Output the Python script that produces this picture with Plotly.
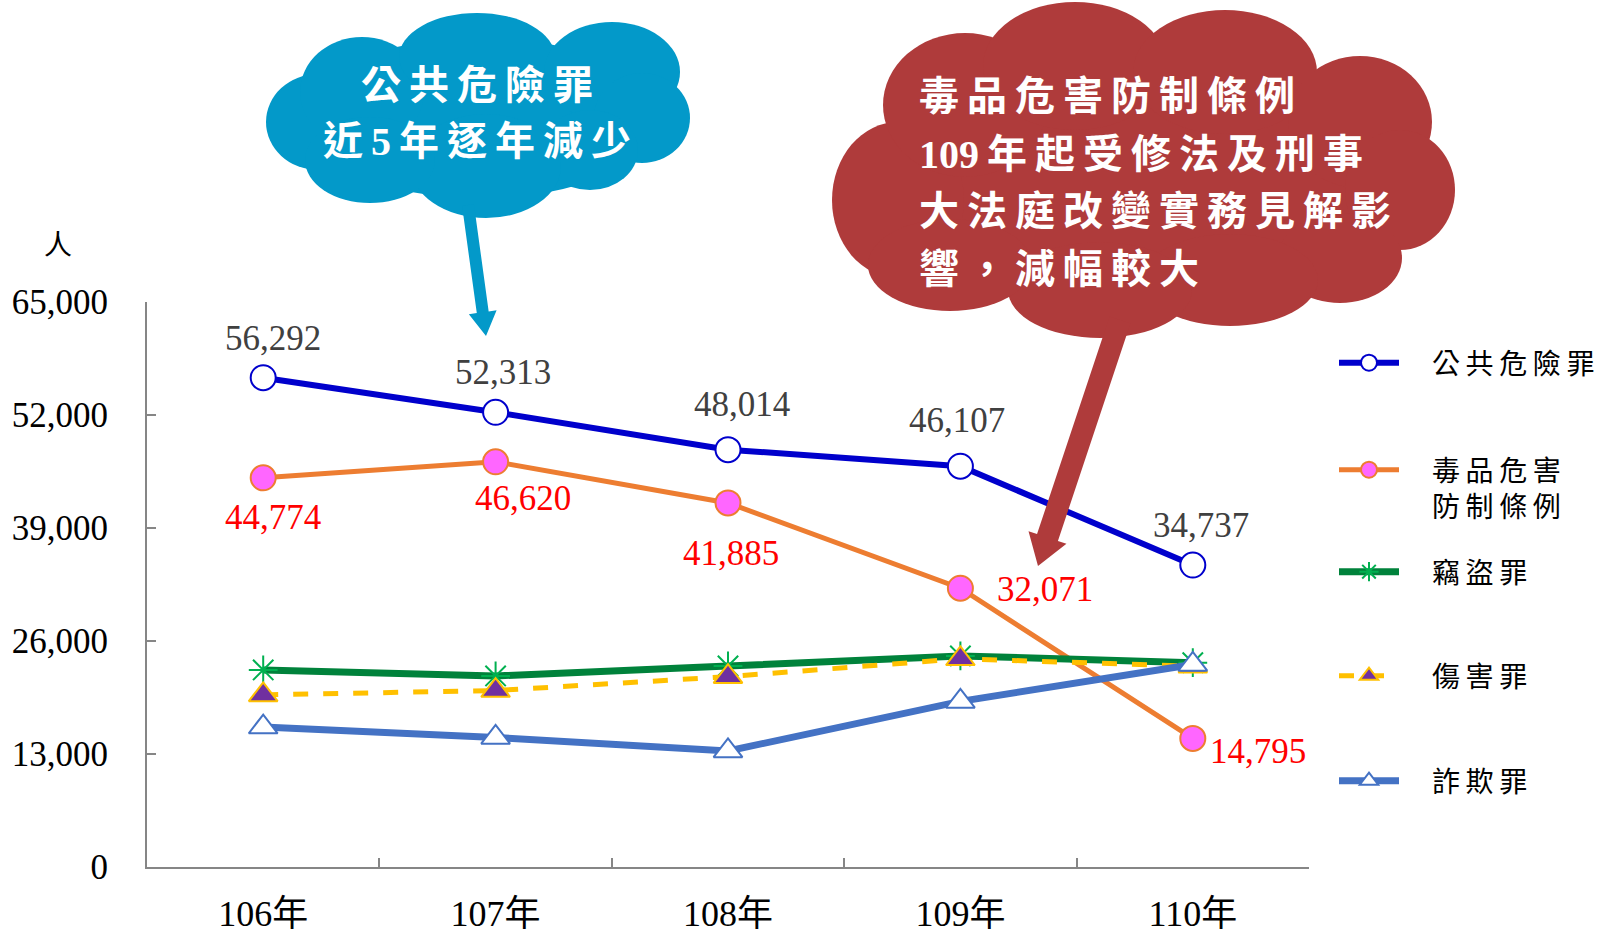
import plotly.graph_objects as go

years = ["106年", "107年", "108年", "109年", "110年"]
public_danger = [56292, 52313, 48014, 46107, 34737]
drugs = [44774, 46620, 41885, 32071, 14795]
theft = [22670, 21980, 23130, 24280, 23510]
injury = [19800, 20300, 21900, 23950, 23100]
fraud = [16100, 14900, 13350, 19050, 23300]
y_ticks = [0, 13000, 26000, 39000, 52000, 65000]
y_tick_text = ["0", "13,000", "26,000", "39,000", "52,000", "65,000"]

W, H = 1607, 933
L, R, T, B = 147, 1309, 302, 867  # plot area in page pixels
PW, PH = R - L, B - T


def px(x):
    return (x - L) / PW


def py(y):
    return (B - y) / PH


def spaced(s, sp="\u2009"):
    return sp.join(list(s))


SERIF = "Liberation Serif, Times New Roman, serif"
CJK = "Noto Sans CJK TC, Noto Sans CJK SC, sans-serif"
MIX = "Liberation Serif, Noto Sans CJK TC, serif"

fig = go.Figure()

fmt = lambda v: f"{v:,}"
PRE = "\u2003"

fig.add_trace(go.Scatter(
    x=years, y=public_danger, name=PRE + spaced("公共危險罪"), mode="lines+markers",
    line=dict(color="#0000CC", width=6),
    marker=dict(symbol="circle", size=25, color="white", line=dict(color="#0000CC", width=2)),
    cliponaxis=False, legend="legend",
))
fig.add_trace(go.Scatter(
    x=years, y=drugs, name=PRE + spaced("毒品危害") + "<br>" + PRE + spaced("防制條例"),
    mode="lines+markers",
    line=dict(color="#ED7D31", width=5),
    marker=dict(symbol="circle", size=25, color="#FF66FF", line=dict(color="#ED7D31", width=2)),
    cliponaxis=False, legend="legend2",
))
fig.add_trace(go.Scatter(
    x=years, y=theft, name=PRE + spaced("竊盜罪"), mode="lines+markers",
    line=dict(color="#00823B", width=7),
    marker=dict(symbol="asterisk-open", size=24, color="#00B050", line=dict(color="#00B050", width=2)),
    cliponaxis=False, legend="legend3",
))
fig.add_trace(go.Scatter(
    x=years, y=injury, name=PRE + spaced("傷害罪"), mode="lines+markers",
    line=dict(color="#FFC000", width=5, dash="dash"),
    marker=dict(symbol="triangle-up", size=25, color="#7030A0", line=dict(color="#FFC000", width=2)),
    cliponaxis=False, legend="legend4",
))
fig.add_trace(go.Scatter(
    x=years, y=fraud, name=PRE + spaced("詐欺罪"), mode="lines+markers",
    line=dict(color="#4472C4", width=7),
    marker=dict(symbol="triangle-up", size=25, color="white", line=dict(color="#4472C4", width=2)),
    cliponaxis=False, legend="legend5",
))

# legends
leg_font = dict(family=CJK, size=28, color="black")
leg_common = dict(xanchor="left", font=leg_font, bgcolor="rgba(0,0,0,0)", itemwidth=60,
                  valign="top", tracegroupgap=0)
leg_x = px(1334)
layout_legends = {
    "legend": dict(x=leg_x, y=py(363), yanchor="middle", **leg_common),
    "legend2": dict(x=leg_x, y=py(445), yanchor="top", **leg_common),
    "legend3": dict(x=leg_x, y=py(572), yanchor="middle", **leg_common),
    "legend4": dict(x=leg_x, y=py(676), yanchor="middle", **leg_common),
    "legend5": dict(x=leg_x, y=py(781), yanchor="middle", **leg_common),
}

shapes = []


def ellipse(cx, cy, rx, ry, color):
    shapes.append(dict(type="circle", xref="paper", yref="paper",
                       x0=px(cx - rx), x1=px(cx + rx), y0=py(cy + ry), y1=py(cy - ry),
                       fillcolor=color, line=dict(width=0), layer="above"))


def arrow(x0, y0, x1, y1, hw, headhw, headlen, color):
    dx, dy = x1 - x0, y1 - y0
    ln = (dx * dx + dy * dy) ** 0.5
    ux, uy = dx / ln, dy / ln
    nx, ny = -uy, ux
    bx, by = x1 - ux * headlen, y1 - uy * headlen
    pts = [
        (x0 + nx * hw, y0 + ny * hw),
        (bx + nx * hw, by + ny * hw),
        (bx + nx * headhw, by + ny * headhw),
        (x1, y1),
        (bx - nx * headhw, by - ny * headhw),
        (bx - nx * hw, by - ny * hw),
        (x0 - nx * hw, y0 - ny * hw),
    ]
    path = "M " + " L ".join(f"{px(a):.5f},{py(b):.5f}" for a, b in pts) + " Z"
    shapes.append(dict(type="path", xref="paper", yref="paper", path=path,
                       fillcolor=color, line=dict(width=0), layer="above"))


BLUE_C = "#0399C9"
RED_C = "#AF3B3B"

# blue cloud
for cx, cy, rx, ry in [
    (480, 118, 180, 80),
    (318, 122, 52, 48),
    (362, 92, 62, 55),
    (477, 57, 78, 44),
    (612, 72, 68, 50),
    (642, 118, 48, 45),
    (590, 150, 48, 40),
    (486, 166, 75, 52),
    (370, 160, 65, 43),
]:
    ellipse(cx, cy, rx, ry, BLUE_C)
arrow(468, 205, 486, 336, 6, 14, 24, BLUE_C)

# red cloud
for cx, cy, rx, ry in [
    (1140, 175, 270, 125),
    (898, 200, 66, 78),
    (965, 105, 82, 72),
    (1075, 66, 92, 64),
    (1225, 72, 92, 62),
    (1360, 122, 72, 66),
    (1400, 190, 55, 60),
    (1340, 258, 62, 45),
    (1230, 280, 88, 46),
    (1100, 290, 92, 48),
    (950, 265, 82, 46),
]:
    ellipse(cx, cy, rx, ry, RED_C)
arrow(1120, 320, 1038, 566, 11, 20, 30, RED_C)

annotations = []

# data labels anchored to the data points
pub_shift = [(10, 39), (7, 40), (14, 45), (-3, 46), (8, 40)]
for xv, yv, (dx, dy) in zip(years, public_danger, pub_shift):
    annotations.append(dict(x=xv, y=yv, xref="x", yref="y", text=fmt(yv), showarrow=False,
                            xshift=dx, yshift=dy, xanchor="center", yanchor="middle",
                            font=dict(family=SERIF, size=35, color="#404040")))
drug_shift = [(10, -40), (27, -37), (3, -51), (85, -1), (65, -13)]
for xv, yv, (dx, dy) in zip(years, drugs, drug_shift):
    annotations.append(dict(x=xv, y=yv, xref="x", yref="y", text=fmt(yv), showarrow=False,
                            xshift=dx, yshift=dy, xanchor="center", yanchor="middle",
                            font=dict(family=SERIF, size=35, color="#FF0000")))


def label(text, x, y, size, xanchor="center", color="white", family=CJK, bold=True):
    annotations.append(dict(text=f"<b>{text}</b>" if bold else text, xref="paper", yref="paper",
                            x=px(x), y=py(y), xanchor=xanchor, yanchor="middle",
                            showarrow=False, font=dict(family=family, size=size, color=color)))


label(spaced("公共危險罪", "\u2009"), 477, 82, 40)
label(spaced("近") + "\u2009<span style='font-family:Liberation Serif'>5</span>\u2009" + spaced("年逐年減少"), 477, 138, 40)

red_lines = [
    spaced("毒品危害防制條例"),
    "<span style='font-family:Liberation Serif'>109</span>\u2009" + spaced("年起受修法及刑事"),
    spaced("大法庭改變實務見解影"),
    spaced("響，減幅較大"),
]
for i, t in enumerate(red_lines):
    label(t, 917, 93 + i * 57.5, 40, xanchor="left")

label("人", 58, 243, 28, color="black", family=CJK, bold=False)

fig.update_layout(
    width=W, height=H,
    margin=dict(l=L, r=W - R, t=T, b=H - B, autoexpand=False),
    plot_bgcolor="white", paper_bgcolor="white",
    showlegend=True,
    shapes=shapes, annotations=annotations,
    **layout_legends,
)
fig.update_xaxes(
    type="category", categoryorder="array", categoryarray=years, range=[-0.5, 4.5],
    showline=True, linecolor="#868686", linewidth=2, showgrid=False, zeroline=False,
    ticks="inside", tickson="boundaries", ticklen=9, tickcolor="#868686", tickwidth=2,
    tickfont=dict(family=MIX, size=36, color="black"), ticklabelstandoff=14,
)
fig.update_yaxes(
    range=[0, 65000], tickvals=y_ticks, ticktext=y_tick_text,
    showline=True, linecolor="#868686", linewidth=2, showgrid=False, zeroline=False,
    ticks="inside", ticklen=9, tickcolor="#868686", tickwidth=2,
    tickfont=dict(family=SERIF, size=35, color="black"), ticklabelstandoff=30,
)

fig.write_html("out.html", config={"displayModeBar": False},
               post_script="document.body.style.margin='0px';document.body.style.overflow='hidden';")
